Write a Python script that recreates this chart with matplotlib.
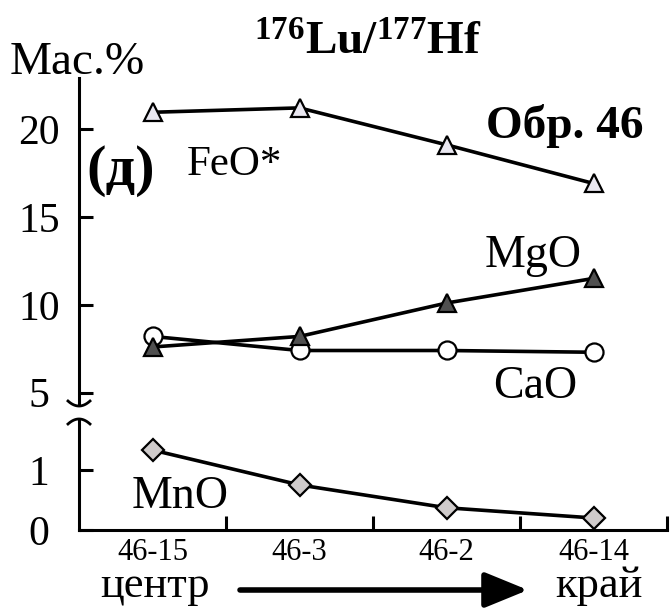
import numpy as np
import matplotlib
matplotlib.use("Agg")
import matplotlib.pyplot as plt
from matplotlib.lines import Line2D
from matplotlib.patches import FancyArrowPatch

plt.rcParams['font.family'] = ['Liberation Serif', 'DejaVu Serif']
plt.rcParams['mathtext.fontset'] = 'custom'
plt.rcParams['mathtext.rm'] = 'Liberation Serif'
plt.rcParams['mathtext.bf'] = 'Liberation Serif:bold'

# analysis points from core to rim
samples = ['46-15', '46-3', '46-2', '46-14']
feo = [20.95, 21.2, 19.1, 16.9]
mgo = [7.6, 8.2, 10.1, 11.5]
cao = [8.2, 7.4, 7.4, 7.3]
mno = [1.33, 0.75, 0.37, 0.2]

upper_ticks = [5, 10, 15, 20]
lower_ticks = [0, 1]

W, H = 670, 610
fig = plt.figure(figsize=(W / 100, H / 100), dpi=100)


def fx(x):
    return x / W


def fy(y):
    return 1 - y / H


left, right = 79, 667
ax_top = fig.add_axes([fx(left), fy(405), fx(right - left), fy(78) - fy(405)])
ax_bot = fig.add_axes([fx(left), fy(530), fx(right - left), fy(420) - fy(530)])

xs = np.arange(1, len(samples) + 1)
LW = 2.6
MEW = 1.6

for ax in (ax_top, ax_bot):
    ax.set_xlim(0.5, 4.5)
    ax.patch.set_visible(False)
    ax.spines['top'].set_visible(False)
    ax.spines['right'].set_visible(False)
    ax.spines['left'].set_linewidth(2.2)
    ax.spines['bottom'].set_linewidth(2.2)

ax_top.set_ylim(4.3, 22.9)
ax_bot.set_ylim(0, 1.83)

# upper panel: major oxides
ax_top.plot(xs, feo, '-', color='black', lw=LW, marker='^', ms=13,
            mfc='#e9e7f0', mec='black', mew=MEW, zorder=3, clip_on=False)
ax_top.plot(xs, cao, '-', color='black', lw=LW, marker='o', ms=13,
            mfc='white', mec='black', mew=MEW, zorder=3, clip_on=False)
ax_top.plot(xs, mgo, '-', color='black', lw=LW, marker='^', ms=13,
            mfc='#505050', mec='black', mew=MEW, zorder=4, clip_on=False)

# lower panel: MnO
ax_bot.plot(xs, mno, '-', color='black', lw=LW, marker='D', ms=11,
            mfc='#cfcbcb', mec='black', mew=MEW, zorder=3, clip_on=False)

# y axes, labels centred left of the spine
YPAD = 29
ax_top.spines['bottom'].set_visible(False)
ax_top.set_xticks([])
ax_top.set_yticks(upper_ticks)
ax_top.set_yticklabels([str(t) for t in upper_ticks])
ax_top.tick_params(axis='y', direction='in', length=10, width=2.2,
                   labelsize=30, pad=YPAD)
for lbl in ax_top.get_yticklabels():
    lbl.set_horizontalalignment('center')

ax_bot.set_yticks(lower_ticks)
ax_bot.set_yticklabels([str(t) for t in lower_ticks])
ax_bot.tick_params(axis='y', direction='in', length=10, width=2.2,
                   labelsize=30, pad=YPAD)
for lbl in ax_bot.get_yticklabels():
    lbl.set_horizontalalignment('center')

# x axis: labels at points, tick marks between them
ax_bot.set_xticks(xs)
ax_bot.set_xticklabels(samples)
ax_bot.tick_params(axis='x', which='major', length=0, labelsize=22, pad=6)
ax_bot.set_xticks(xs + 0.5, minor=True)
ax_bot.tick_params(axis='x', which='minor', direction='in', length=10,
                   width=2.2)

# axis break marks
t = np.linspace(-1, 1, 30)
bx = fx(left + 11 * t)
fig.add_artist(Line2D(bx, fy(401 + 5 * (1 - t ** 2)), color='black',
                      lw=2.0, transform=fig.transFigure))
fig.add_artist(Line2D(bx, fy(424 - 5 * (1 - t ** 2)), color='black',
                      lw=2.0, transform=fig.transFigure))

# titles and labels
fig.text(fx(368), fy(55), r'$\mathbf{^{176}Lu/^{177}Hf}$', fontsize=34,
         ha='center', va='baseline')
fig.text(fx(10), fy(74), 'Мас.%', fontsize=34, ha='left', va='baseline')
fig.text(fx(644), fy(138), 'Обр. 46', fontsize=34, fontweight='bold',
         ha='right', va='baseline')
fig.text(fx(86), fy(185), '(д)', fontsize=42, fontweight='bold',
         ha='left', va='baseline')
fig.text(fx(187), fy(175), 'FeO*', fontsize=31, ha='left', va='baseline')
fig.text(fx(485), fy(267), 'MgO', fontsize=33, ha='left', va='baseline')
fig.text(fx(493), fy(398), 'CaO', fontsize=33, ha='left', va='baseline')
fig.text(fx(132), fy(508), 'MnO', fontsize=33, ha='left', va='baseline')
fig.text(fx(100), fy(597), 'центр', fontsize=32, ha='left', va='baseline')
fig.text(fx(643), fy(597), 'край', fontsize=32, ha='right', va='baseline')

fig.add_artist(FancyArrowPatch(
    (fx(240), fy(590)), (fx(528), fy(590)), transform=fig.transFigure,
    arrowstyle='-|>,head_length=1.1,head_width=0.45', mutation_scale=24,
    lw=4.0, color='black', shrinkA=0, shrinkB=0))

fig.savefig('out.png', dpi=100, facecolor='white')
